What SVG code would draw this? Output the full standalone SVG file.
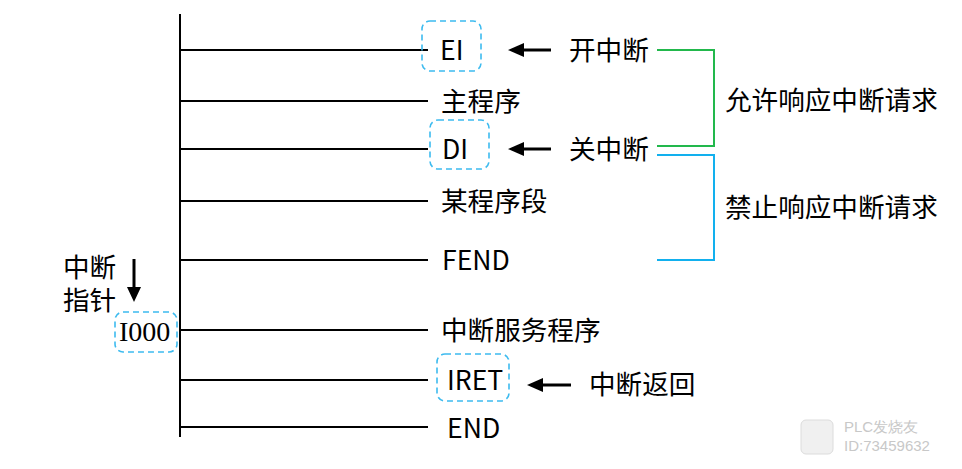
<svg xmlns="http://www.w3.org/2000/svg" width="962" height="469" viewBox="0 0 962 469">
<style>
.t{font-family:"Noto Sans CJK SC","Noto Sans",sans-serif;font-size:26.6px;fill:#000}
.s{font-family:"Liberation Serif",serif;font-size:28px;fill:#000}
.ln{stroke:#000;stroke-width:2;fill:none}
.box{fill:none;stroke:#3dbbef;stroke-width:1.6;stroke-dasharray:6 4}
.ar{stroke:#000;stroke-width:3;fill:none}
.wm{font-family:"Liberation Sans",sans-serif;font-size:15px;fill:#c8c8c8}
</style>
<rect width="962" height="469" fill="#fff"/>
<g id="connectors">
<line class="ln" x1="180" y1="14" x2="180" y2="437"/>
<line class="ln" x1="180" y1="50" x2="428" y2="50"/>
<line class="ln" x1="180" y1="101" x2="428" y2="101"/>
<line class="ln" x1="180" y1="149" x2="428" y2="149"/>
<line class="ln" x1="180" y1="201" x2="428" y2="201"/>
<line class="ln" x1="180" y1="260" x2="428" y2="260"/>
<line class="ln" x1="180" y1="330" x2="428" y2="330"/>
<line class="ln" x1="180" y1="380" x2="428" y2="380"/>
<line class="ln" x1="180" y1="427" x2="428" y2="427"/>
<line class="ar" x1="551" y1="50" x2="520" y2="50"/>
<polygon points="508,50 524,43 524,57"/>
<line class="ar" x1="551" y1="149" x2="520" y2="149"/>
<polygon points="508,149 524,142 524,156"/>
<line class="ar" x1="571" y1="385" x2="539" y2="385"/>
<polygon points="527,385 543,378 543,392"/>
<line class="ar" x1="134" y1="259" x2="134" y2="290"/>
<polygon points="134,302 127,287 141,287"/>
<polyline points="657,50 714,50 714,146 657,146" fill="none" stroke="#22b84c" stroke-width="2"/>
<polyline points="657,155 714,155 714,260 657,260" fill="none" stroke="#12b0ee" stroke-width="2"/>
</g>
<g id="ei"><rect class="box" x="422" y="21" width="59" height="50" rx="8"/><text class="t" x="440" y="60">EI</text></g>
<g id="main"><text class="t" x="441" y="111">主程序</text></g>
<g id="di"><rect class="box" x="430" y="120" width="59" height="49" rx="8"/><text class="t" x="442" y="159">DI</text></g>
<g id="seg"><text class="t" x="441" y="211">某程序段</text></g>
<g id="fend"><text class="t" x="442" y="270">FEND</text></g>
<g id="isr"><text class="t" x="441" y="340">中断服务程序</text></g>
<g id="iret"><rect class="box" x="437" y="354" width="72" height="47" rx="8"/><text class="t" x="447" y="390">IRET</text></g>
<g id="end"><text class="t" x="447" y="438">END</text></g>
<g id="kai"><text class="t" x="569" y="60">开中断</text></g>
<g id="guan"><text class="t" x="569" y="159">关中断</text></g>
<g id="ret"><text class="t" x="589" y="394">中断返回</text></g>
<g id="allow"><text class="t" x="725" y="110">允许响应中断请求</text></g>
<g id="forbid"><text class="t" x="725" y="217">禁止响应中断请求</text></g>
<g id="ptr"><text class="t" x="63" y="277">中断</text><text class="t" x="63" y="310">指针</text></g>
<g id="i000"><rect class="box" x="115" y="312" width="62" height="40" rx="8"/><text class="s" x="119" y="341">I000</text></g>
<g id="watermark">
<rect x="801" y="420" width="32" height="34" rx="5" fill="#f0f0f0" stroke="#dcdcdc"/>
<text class="wm" x="844" y="432">PLC发烧友</text>
<text class="wm" x="844" y="451">ID:73459632</text>
</g>
</svg>
